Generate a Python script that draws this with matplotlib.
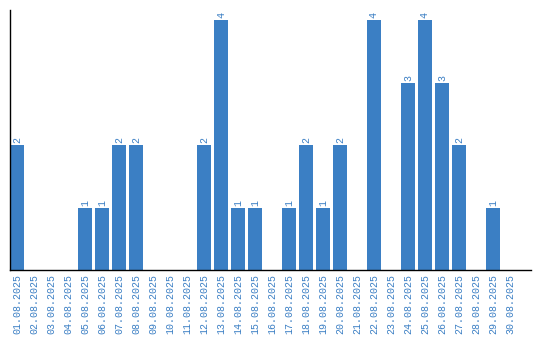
import matplotlib
matplotlib.use("Agg")
import matplotlib.pyplot as plt

dates = ["%02d.08.2025" % d for d in range(1, 31)]
counts = [2, 0, 0, 0, 1, 1, 2, 2, 0, 0,
          0, 2, 4, 1, 1, 0, 1, 2, 1, 2,
          0, 4, 0, 3, 4, 3, 2, 0, 1, 0]

bar_color = "#3b7fc4"
text_color = "#3b7fc4"
mono = "Liberation Mono"

fig = plt.figure(figsize=(5.4, 3.4), dpi=100)
ax = fig.add_axes([10 / 540, 70 / 340, 521 / 540, 260 / 340])

x = list(range(len(dates)))
ax.bar(x, counts, width=0.82, color=bar_color)

# value labels on top of the non-empty bars
for xi, c in zip(x, counts):
    if c > 0:
        ax.text(xi, c + 0.03, str(c), rotation=90, ha="center", va="bottom",
                fontsize=7.2, family=mono, color=text_color)

ax.set_xlim(-0.41, 30.24)
ax.set_ylim(0, 4.16)
ax.set_xticks(x)
ax.set_xticklabels(dates, rotation=90, fontsize=7.2, family=mono,
                   color=text_color)
ax.tick_params(axis="x", length=0, pad=3)
ax.set_yticks([])
ax.spines["top"].set_visible(False)
ax.spines["right"].set_visible(False)
ax.spines["left"].set_linewidth(1)
ax.spines["bottom"].set_linewidth(1)

fig.savefig("out.png", dpi=100)
